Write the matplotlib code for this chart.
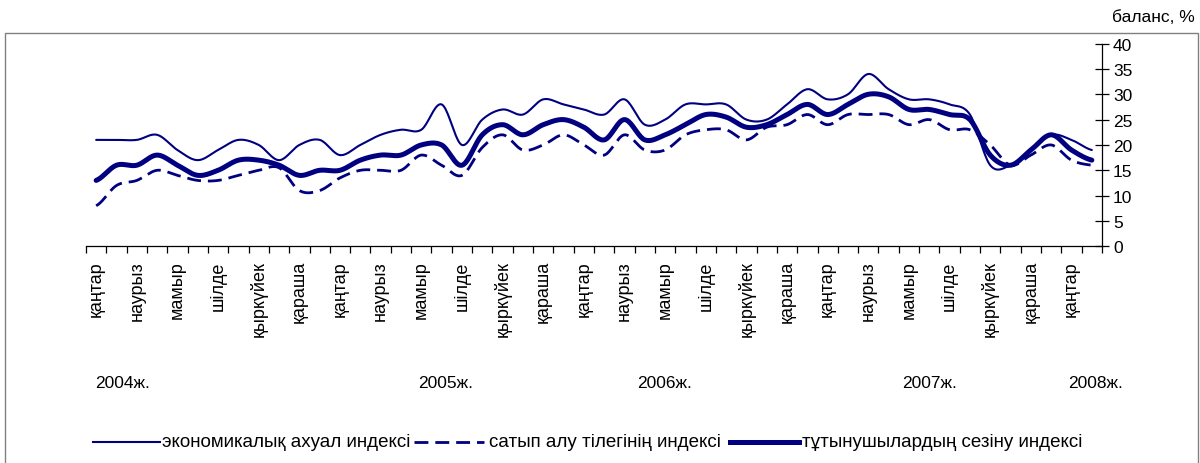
import numpy as np
import matplotlib
matplotlib.use('Agg')
import matplotlib.pyplot as plt
from matplotlib.lines import Line2D
from matplotlib.patches import Rectangle

plt.rcParams['font.family'] = ['Liberation Sans', 'DejaVu Sans']

# months Jan 2004 .. Feb 2008 (50 points)
month_names = ['қаңтар', 'ақпан', 'наурыз', 'сәуір', 'мамыр', 'маусым',
               'шілде', 'тамыз', 'қыркүйек', 'қазан', 'қараша', 'желтоқсан']
n_months = 50
years = ['2004ж.', '2005ж.', '2006ж.', '2007ж.', '2008ж.']

# экономикалық ахуал индексі
econ = [21, 21, 21, 22, 19, 17, 19, 21, 20, 17,
        20, 21, 18, 20, 22, 23, 23, 28, 20, 25,
        27, 26, 29, 28, 27, 26, 29, 24, 25, 28,
        28, 28, 25, 25, 28, 31, 29, 30, 34, 31,
        29, 29, 28, 26, 16, 16, 19, 22, 21, 19]

# сатып алу тілегінің индексі
purch = [8, 12, 13, 15, 14, 13, 13, 14, 15, 15.5,
         11, 11, 13.5, 15, 15, 15, 18, 16, 14, 19.5,
         22, 19, 20, 22, 20, 18, 22, 19, 19, 22,
         23, 23, 21, 23.5, 24, 26, 24, 26, 26, 26,
         24, 25, 23, 23, 20, 16, 18, 20, 17, 16]

# тұтынушылардың сезіну индексі
cons = [13, 16, 16, 18, 16, 14, 15, 17, 17, 16,
        14, 15, 15, 17, 18, 18, 20, 20, 16, 22,
        24, 22, 24, 25, 23.5, 21, 25, 21, 22, 24,
        26, 25.5, 23.5, 24, 26, 28, 26, 28, 30, 29.5,
        27, 27, 26, 25, 18, 16, 19, 22, 19, 17]

labels = ['экономикалық ахуал индексі', 'сатып алу тілегінің индексі',
          'тұтынушылардың сезіну индексі']

NAVY = '#000080'
FS = 12.5


def smooth(vals, n=20):
    """Catmull-Rom curve through the points, like Excel's smoothed line"""
    y = np.asarray(vals, dtype=float)
    yp = np.concatenate([[y[0]], y, [y[-1]]])
    t = np.linspace(0, 1, n, endpoint=False)
    xs, ys = [], []
    for i in range(len(y) - 1):
        p0, p1, p2, p3 = yp[i], yp[i + 1], yp[i + 2], yp[i + 3]
        seg = 0.5 * (2 * p1 + (-p0 + p2) * t
                     + (2 * p0 - 5 * p1 + 4 * p2 - p3) * t ** 2
                     + (-p0 + 3 * p1 - 3 * p2 + p3) * t ** 3)
        xs.append(i + t)
        ys.append(seg)
    xs.append([len(y) - 1])
    ys.append([y[-1]])
    return np.concatenate(xs), np.concatenate(ys)


fig = plt.figure(figsize=(12, 4.64), dpi=100)
W, H = 1200.0, 464.0
ax = fig.add_axes([86 / W, 1 - 247.3 / H, (1102 - 86) / W, (247.3 - 44.6) / H])

x, y = smooth(econ)
ax.plot(x, y, color=NAVY, lw=1.5, solid_capstyle='round')
x, y = smooth(purch)
ax.plot(x, y, color=NAVY, lw=2, dashes=(5, 2.5))
x, y = smooth(cons)
ax.plot(x, y, color=NAVY, lw=3.6, solid_capstyle='round')

ax.set_xlim(-0.5, n_months - 0.5)
ax.set_ylim(0, 40)

for s in ['left', 'top']:
    ax.spines[s].set_visible(False)
for s in ['right', 'bottom']:
    ax.spines[s].set_color('black')
    ax.spines[s].set_linewidth(0.9)

ax.yaxis.tick_right()
ax.set_yticks(np.arange(0, 41, 5))
ax.tick_params(axis='y', direction='inout', length=10, width=0.9, pad=3,
               labelsize=FS)

ticks = np.arange(0, n_months, 2)
ax.set_xticks(ticks)
ax.set_xticklabels([month_names[i % 12] for i in ticks], rotation=90,
                   va='top', ha='center')
ax.set_xticks(np.arange(-0.5, n_months, 1), minor=True)
ax.tick_params(axis='x', which='major', length=0, pad=10, labelsize=13)
ax.tick_params(axis='x', which='minor', direction='out', length=5, width=0.9)

fig.text(1195 / W, 1 - 18 / H, 'баланс, %', ha='right', va='center',
         fontsize=FS)

year_x = [95, 418, 637, 902, 1068]
for xx, yr in zip(year_x, years):
    fig.text(xx / W, 1 - 383 / H, yr, ha='left', va='center', fontsize=FS)

# legend
leg_y = 1 - 443 / H
styles = [dict(lw=1.5), dict(lw=2, dashes=(5, 2.5)), dict(lw=3.6)]
spans = [(93, 160, 162), (414, 484, 489), (730, 799, 802)]
for (x0, x1, tx), st, lab in zip(spans, styles, labels):
    fig.add_artist(Line2D([x0 / W, x1 / W], [leg_y, leg_y], color=NAVY,
                          transform=fig.transFigure, **st))
    fig.text(tx / W, leg_y, lab, ha='left', va='center', fontsize=13.5)

fig.add_artist(Rectangle((5 / W, -0.05), (1198 - 5) / W, 1 - 34 / H + 0.05,
                         transform=fig.transFigure, fill=False,
                         ec='#808080', lw=1))

fig.savefig('out.png', dpi=100)
